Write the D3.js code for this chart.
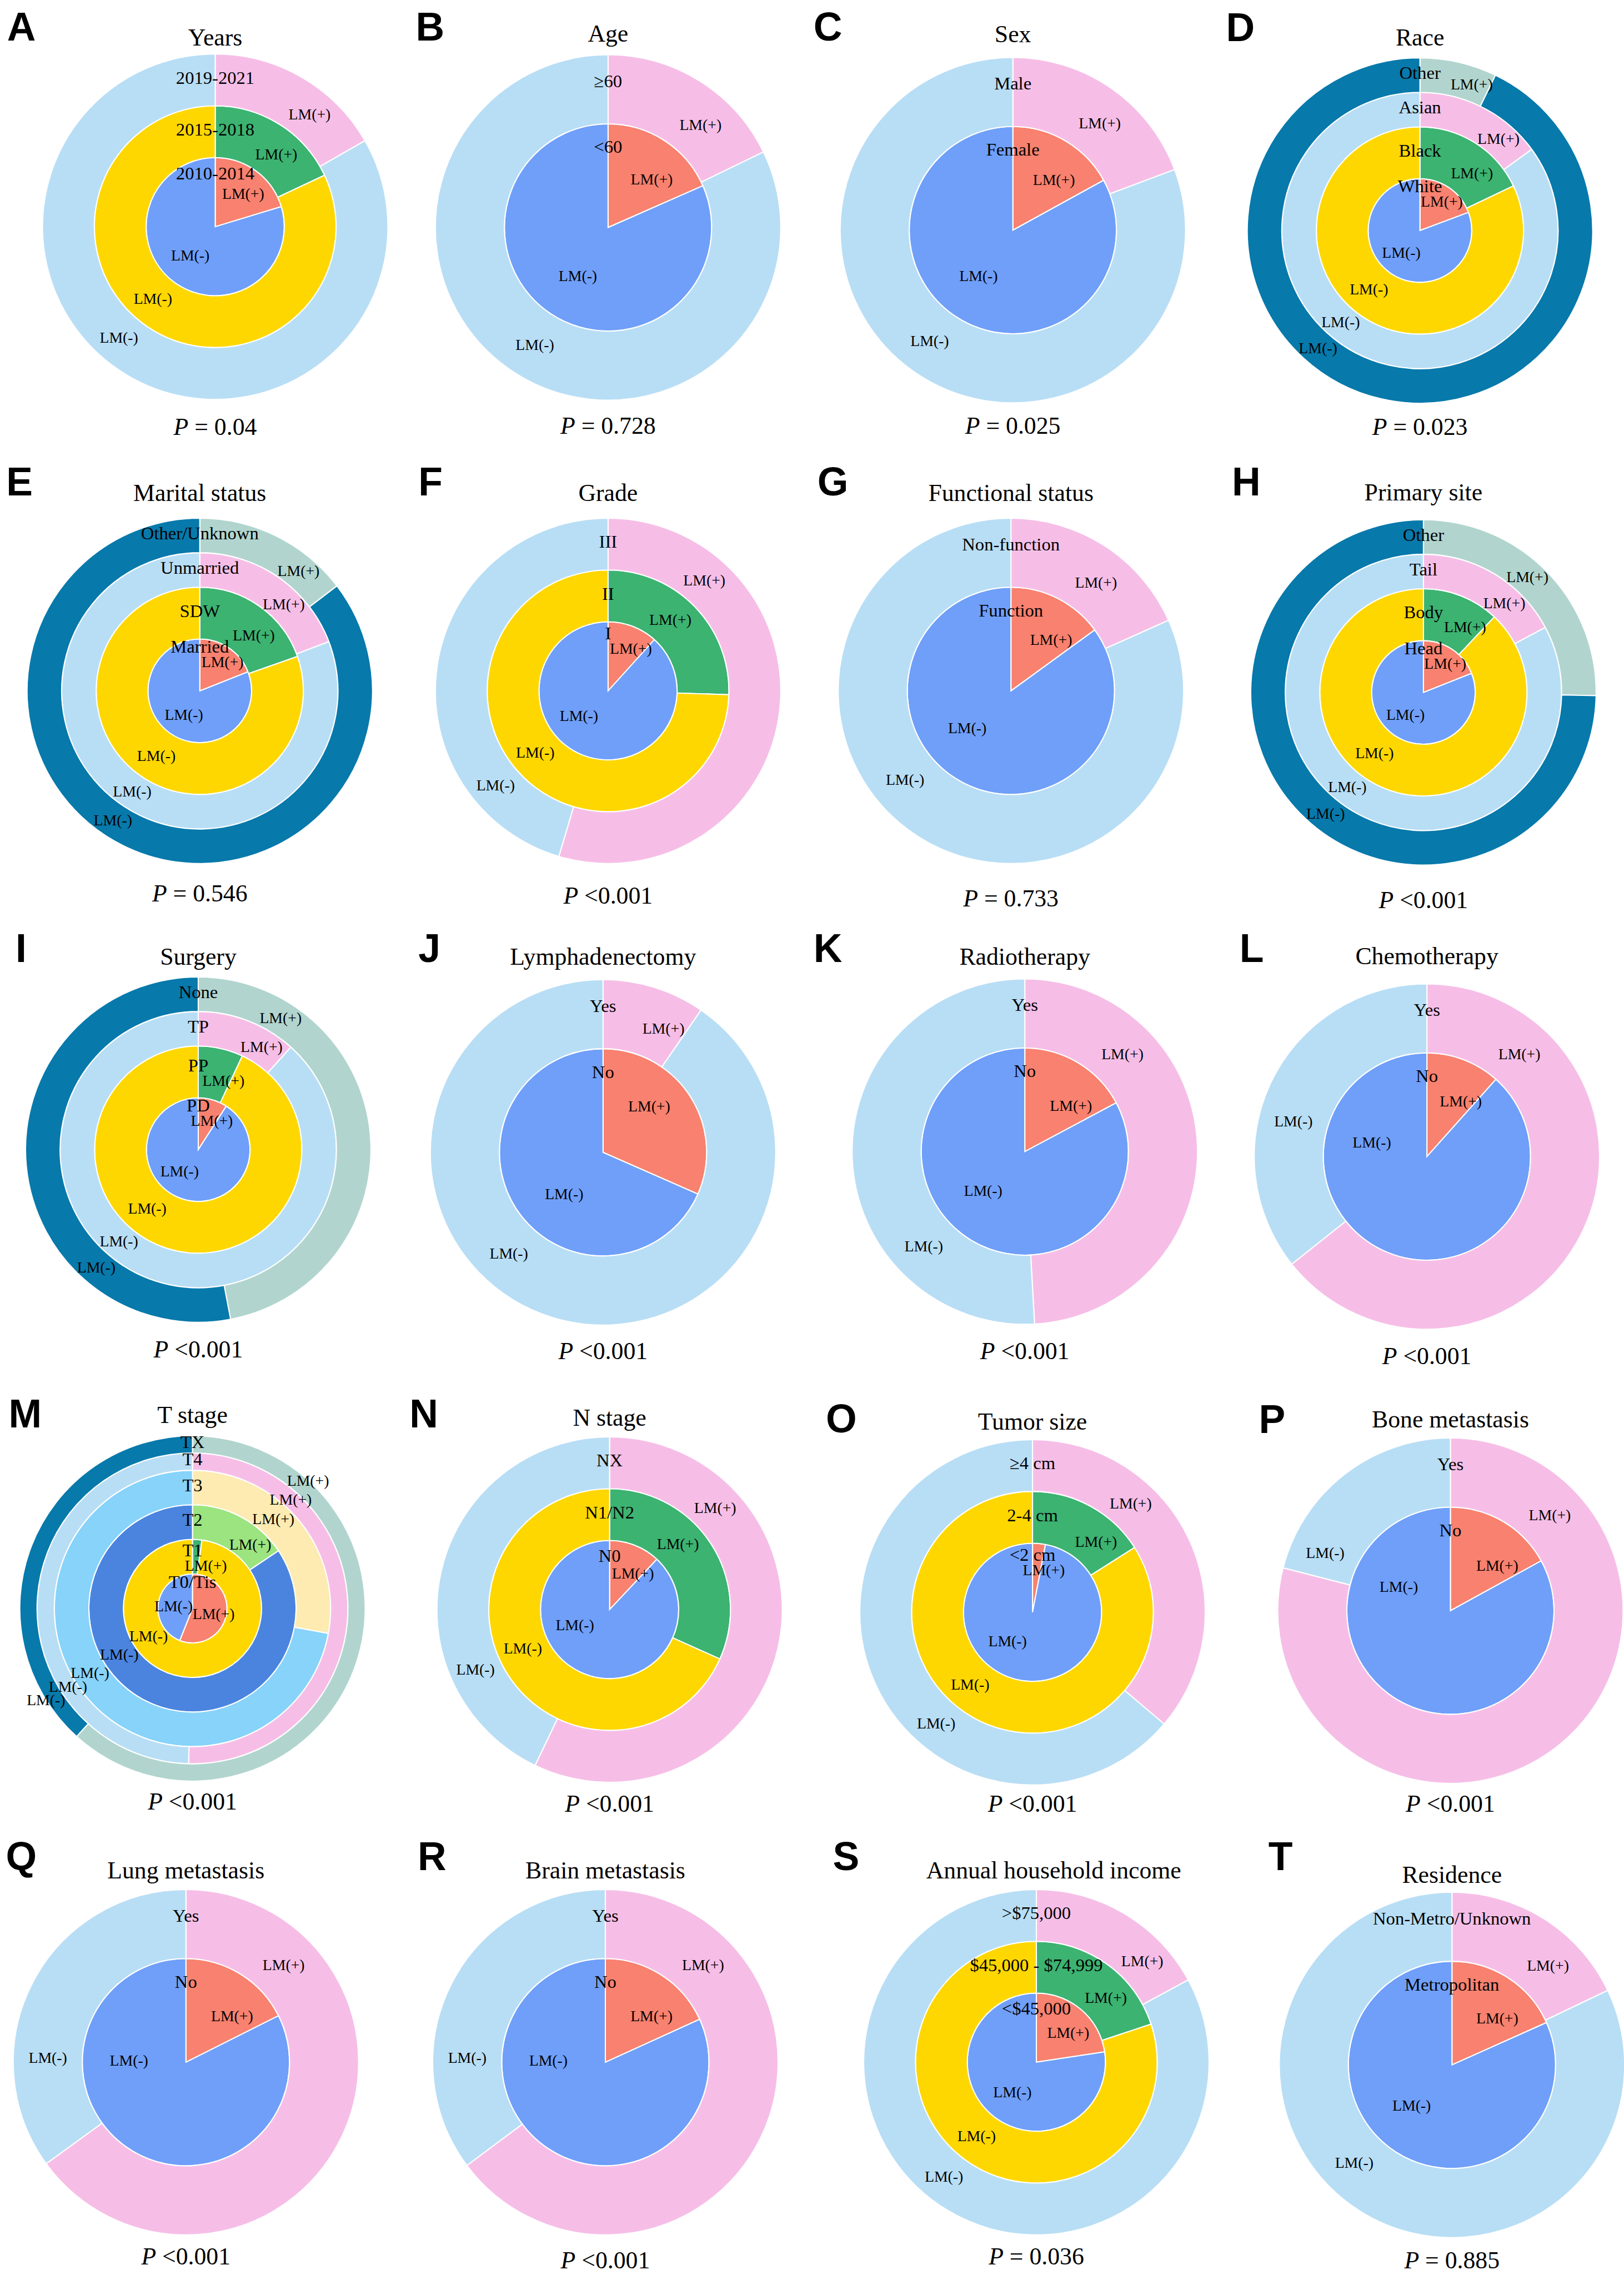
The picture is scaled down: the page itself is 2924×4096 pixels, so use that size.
<!DOCTYPE html>
<html>
<head>
<meta charset="utf-8">
<script src="https://cdn.jsdelivr.net/npm/d3@7"></script>
<style>
  html, body { margin: 0; padding: 0; background: #fff; }
  svg { display: block; }
  text { font-family: "Liberation Serif", "Times New Roman", serif; fill: #000; }
  .letter { font-family: "Liberation Sans", Arial, sans-serif; font-weight: bold; }
</style>
</head>
<body>
<svg id="chart"></svg>
<script>
// ---- data ----
const titles = ['Years', 'Age', 'Sex', 'Race', 'Marital status', 'Grade', 'Functional status', 'Primary site',
  'Surgery', 'Lymphadenectomy', 'Radiotherapy', 'Chemotherapy', 'T stage', 'N stage', 'Tumor size',
  'Bone metastasis', 'Lung metastasis', 'Brain metastasis', 'Annual household income', 'Residence']

// categories from inner pie to outer ring
const categories = [
  ['2010-2014', '2015-2018', '2019-2021'],
  ['<60', '≥60'],
  ['Female', 'Male'],
  ['White', 'Black', 'Asian', 'Other'],
  ['Married', 'SDW', 'Unmarried', 'Other/Unknown'],
  ['I', 'II', 'III'],
  ['Function', 'Non-function'],
  ['Head', 'Body', 'Tail', 'Other'],
  ['PD', 'PP', 'TP', 'None'],
  ['No', 'Yes'],
  ['No', 'Yes'],
  ['No', 'Yes'],
  ['T0/Tis', 'T1', 'T2', 'T3', 'T4', 'TX'],
  ['N0', 'N1/N2', 'NX'],
  ['<2 cm', '2-4 cm', '≥4 cm'],
  ['No', 'Yes'],
  ['No', 'Yes'],
  ['No', 'Yes'],
  ['<$45,000', '$45,000 - $74,999', '>$75,000'],
  ['Metropolitan', 'Non-Metro/Unknown']
]

// % LM(+) in each category (same order as above)
const lmPositive = [
  [20.3, 18.0, 16.7],
  [18.4, 17.8],
  [17.0, 19.3],
  [19.3, 17.9, 15.0, 7.2],
  [19.0, 19.6, 19.2, 14.6],
  [11.7, 25.5, 54.6],
  [15.0, 18.3],
  [19.0, 12.0, 17.2, 25.3],
  [9.1, 7.0, 11.7, 47.0],
  [31.6, 9.6],
  [17.2, 49.1],
  [11.6, 64.3],
  [56.0, 2.2, 15.6, 27.9, 50.4, 61.7],
  [12.0, 31.7, 57.1],
  [3.0, 16.0, 36.2],
  [17.0, 79.0],
  [17.6, 65.0],
  [18.2, 64.8],
  [22.6, 19.9, 17.1],
  [18.3, 17.9]
]

const pTexts = ['= 0.04', '= 0.728', '= 0.025', '= 0.023', '= 0.546', '<0.001', '= 0.733', '<0.001',
  '<0.001', '<0.001', '<0.001', '<0.001', '<0.001', '<0.001', '<0.001', '<0.001',
  '<0.001', '<0.001', '= 0.036', '= 0.885']

const letters = 'ABCDEFGHIJKLMNOPQRST'.split('')

// ---- styles / layout (reference pixel space 4212 x 5901) ----
const colorSets = {           // [LM(+), LM(-)]
  pie:   ['#f8816f', '#6f9ff9'],
  gold:  ['#3cb371', '#ffd700'],
  royal: ['#9be480', '#4a84df'],
  sky:   ['#fdebb2', '#87d3fa'],
  light: ['#f6bee7', '#b8def5'],
  dark:  ['#b1d5ce', '#0779ab']
}
const levelColors = {
  2: ['pie', 'light'],
  3: ['pie', 'gold', 'light'],
  4: ['pie', 'gold', 'light', 'dark'],
  6: ['pie', 'gold', 'royal', 'sky', 'light', 'dark']
}
const levelRadii = {
  2: [0, 0.6, 1],
  3: [0, 0.4, 0.7, 1],
  4: [0, 0.3, 0.6, 0.8, 1],
  6: [0, 0.2, 0.4, 0.6, 0.8, 0.9, 1]
}

// cx, cy: pie centre; ty/py: title and P baselines; lx/ly: panel letter; pa/ma: label directions (deg)
const layout = [
  { cx: 558, cy: 588, ty: 118, py: 1128, lx: 18, ly: 105, pa: 40, ma: 221 },
  { cx: 1577, cy: 590, ty: 108, py: 1125, lx: 1078, ly: 105, pa: 42, ma: 212 },
  { cx: 2627, cy: 597, ty: 110, py: 1125, lx: 2110, ly: 105, pa: 39, ma: 217 },
  { cx: 3683, cy: 598, ty: 118, py: 1128, lx: 3180, ly: 107, pa: 42, ma: 221 },
  { cx: 518, cy: 1792, ty: 1300, py: 2338, lx: 16, ly: 1285, pa: 44, ma: 214 },
  { cx: 1577, cy: 1792, ty: 1300, py: 2344, lx: 1085, ly: 1285, pa: 41, ma: 230 },
  { cx: 2622, cy: 1792, ty: 1300, py: 2351, lx: 2120, ly: 1285, pa: 38, ma: 230 },
  { cx: 3692, cy: 1796, ty: 1298, py: 2355, lx: 3195, ly: 1285, pa: 42, ma: 219 },
  { cx: 514, cy: 2982, ty: 2502, py: 3521, lx: 40, ly: 2495, pa: 32, ma: 221 },
  { cx: 1564, cy: 2989, ty: 2503, py: 3526, lx: 1085, ly: 2495, pa: 45, ma: 223 },
  { cx: 2658, cy: 2987, ty: 2503, py: 3526, lx: 2110, ly: 2495, pa: 45, ma: 227 },
  { cx: 3701, cy: 3000, ty: 2501, py: 3538, lx: 3215, ly: 2495, pa: 42, ma: 285 },
  { cx: 499, cy: 4172, ty: 3691, py: 4694, lx: 22, ly: 3702, pa: 42, ma: 238, pieA: [104, 277] },
  { cx: 1581, cy: 4175, ty: 3698, py: 4700, lx: 1062, ly: 3702, pa: 46, ma: 246 },
  { cx: 2678, cy: 4182, ty: 3709, py: 4700, lx: 2142, ly: 3715, pa: 42, ma: 221 },
  { cx: 3762, cy: 4178, ty: 3702, py: 4700, lx: 3265, ly: 3717, pa: 46, ma: 295 },
  { cx: 482, cy: 5349, ty: 4873, py: 5873, lx: 15, ly: 4851, pa: 45, ma: 272 },
  { cx: 1570, cy: 5349, ty: 4873, py: 5884, lx: 1083, ly: 4851, pa: 45, ma: 272 },
  { cx: 2688, cy: 5349, ty: 4873, py: 5873, lx: 2160, ly: 4851, pa: 47, ma: 219, tdx: 45 },
  { cx: 3766, cy: 5356, ty: 4884, py: 5884, lx: 3290, ly: 4851, pa: 44, ma: 225 }
]

const R = 448
const rScale = d3.scaleLinear().domain([0, 1]).range([0, R])
const rad = deg => deg * Math.PI / 180
const LM_SIZE = 40, CAT_SIZE = 47
const LM_HALF = 55   // half width of "LM(+)" at LM_SIZE

const svg = d3.select('#chart')
  .attr('width', 2924)
  .attr('height', 4096)
  .attr('viewBox', '0 0 4212 5901')

const pie = d3.pie().sort(null).value(d => d.value)

const renderPanel = i => {
  const L = layout[i]
  const cats = categories[i]
  const n = cats.length
  const radii = levelRadii[n]
  const cols = levelColors[n]

  const g = svg.append('g').attr('transform', `translate(${L.cx},${L.cy})`)

  const labels = []

  cats.forEach((cat, k) => {
    const plus = lmPositive[i][k]
    const slices = pie([{ key: 'LM(+)', value: plus }, { key: 'LM(-)', value: 100 - plus }])
    const inner = radii[k], outer = radii[k + 1]
    const arc = d3.arc().innerRadius(rScale(inner)).outerRadius(rScale(outer))
    const set = colorSets[cols[k]]

    g.selectAll(null)
      .data(slices)
      .enter()
      .append('path')
      .attr('d', arc)
      .attr('fill', (d, j) => set[j])
      .attr('stroke', '#fff')
      .attr('stroke-width', 3)

    // label directions
    const endPlus = plus * 3.6
    let aPlus = Math.max(15, Math.min(L.pa, 0.75 * endPlus))
    let aMinus = Math.max(L.ma, endPlus + 10)
    let rPlus, rMinus, rCat
    if (k === 0) {
      const pr = rScale(outer)
      if (L.pieA) { aPlus = L.pieA[0]; aMinus = L.pieA[1] }
      rPlus = 0.63 * pr
      rMinus = 0.55 * pr
      rCat = 0.78 * pr
    } else {
      let mid = rScale((inner + outer) / 2)
      if (outer === 1 && outer - inner <= 0.1) mid = rScale(outer)
      rPlus = mid
      rMinus = mid
      rCat = Math.max(rScale((inner + outer) / 2 + 0.015), rScale(outer - 0.15))
    }
    let cy = -rCat
    let px = rPlus * Math.sin(rad(aPlus)), py = -rPlus * Math.cos(rad(aPlus))
    // keep LM(+) clear of the category name: lift the name a little, put LM(+) just below
    const catHalf = cat.length * CAT_SIZE * 0.25
    if (px - LM_HALF < catHalf + 4 && Math.abs(py - cy) < 44) {
      cy -= 11
      py = cy + 40
    }

    labels.push({ text: 'LM(+)', x: px, y: py, size: LM_SIZE })
    labels.push({ text: 'LM(-)', x: rMinus * Math.sin(rad(aMinus)), y: -rMinus * Math.cos(rad(aMinus)), size: LM_SIZE })
    labels.push({ text: cat, x: 0, y: cy, size: CAT_SIZE })
  })

  g.selectAll('text.lab')
    .data(labels)
    .enter()
    .append('text')
    .attr('class', 'lab')
    .attr('x', d => d.x)
    .attr('y', d => d.y)
    .attr('dy', '0.35em')
    .attr('text-anchor', 'middle')
    .attr('font-size', d => d.size)
    .text(d => d.text)

  // title
  svg.append('text')
    .attr('x', L.cx + (L.tdx || 0))
    .attr('y', L.ty)
    .attr('text-anchor', 'middle')
    .attr('font-size', 63)
    .text(titles[i])

  // P value
  const p = svg.append('text')
    .attr('x', L.cx)
    .attr('y', L.py)
    .attr('text-anchor', 'middle')
    .attr('font-size', 63)
  p.append('tspan').attr('font-style', 'italic').text('P')
  p.append('tspan').text(' ' + pTexts[i])

  // panel letter
  svg.append('text')
    .attr('class', 'letter')
    .attr('x', L.lx)
    .attr('y', L.ly)
    .attr('font-size', 103)
    .text(letters[i])
}

titles.forEach((t, i) => renderPanel(i))
</script>
</body>
</html>
